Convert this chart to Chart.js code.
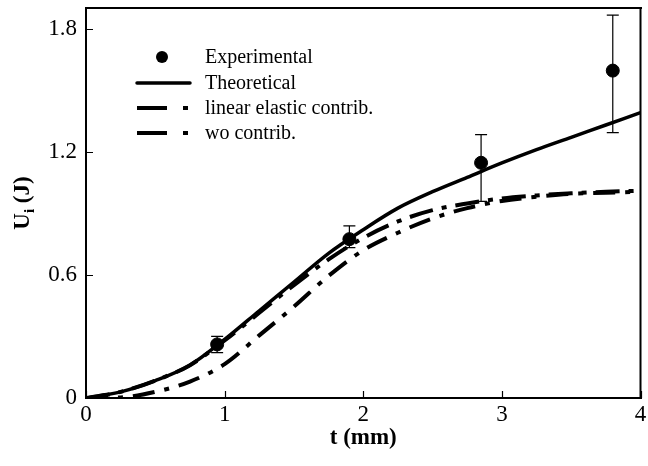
<!DOCTYPE html>
<html>
<head>
<meta charset="utf-8">
<script src="https://cdn.jsdelivr.net/npm/chart.js@4/dist/chart.umd.min.js"></script>
<style>
  html, body { margin: 0; padding: 0; background: #fff; overflow: hidden; }
  #wrap { width: 648px; height: 466px; }
</style>
</head>
<body>
<div id="wrap"><canvas id="c" width="648" height="466"></canvas></div>
<script>
// ---- data ----
const tGrid = [0, 0.25, 0.5, 0.75, 1.0, 1.25, 1.5, 1.75, 2.0, 2.25, 2.5, 2.75, 3.0, 3.25, 3.5, 3.75, 4.0];
const theoretical   = [0, 0.03, 0.085, 0.16, 0.285, 0.425, 0.565, 0.705, 0.82, 0.925, 1.005, 1.075, 1.145, 1.21, 1.27, 1.33, 1.39];
const linearElastic = [0, 0.03, 0.085, 0.16, 0.28, 0.415, 0.55, 0.675, 0.78, 0.86, 0.915, 0.948, 0.972, 0.987, 0.997, 1.005, 1.01];
const woContrib     = [0, 0.003, 0.03, 0.08, 0.165, 0.305, 0.445, 0.595, 0.72, 0.805, 0.875, 0.925, 0.96, 0.98, 0.995, 1.0, 1.005];

const expT    = [0.946, 1.90, 2.85, 3.80];
const expU    = [0.261, 0.774, 1.146, 1.595];
const expLow  = [0.221, 0.733, 0.958, 1.293];
const expHigh = [0.300, 0.839, 1.283, 1.865];

const xTicks = [0, 1, 2, 3, 4];
const yTicks = [0, 0.6, 1.2, 1.8];

const seriesNames = ['Experimental', 'Theoretical', 'linear elastic contrib.', 'wo contrib.'];

const SERIF = '"Liberation Serif", "Times New Roman", serif';
const pts = (xs, ys) => xs.map((x, i) => ({ x: x, y: ys[i] }));

// ---- plugin: frame, inward ticks, error bars, legend, axis titles ----
const decor = {
  id: 'decor',
  afterDatasetsDraw(chart) {
    const ctx = chart.ctx, a = chart.chartArea;
    const xs = chart.scales.x, ys = chart.scales.y;
    ctx.save();
    // error bars
    ctx.strokeStyle = '#000'; ctx.lineWidth = 1.2;
    expT.forEach((t, i) => {
      const px = xs.getPixelForValue(t);
      const y1 = ys.getPixelForValue(expLow[i]);
      const y2 = ys.getPixelForValue(expHigh[i]);
      ctx.beginPath();
      ctx.moveTo(px, y1); ctx.lineTo(px, y2);
      ctx.moveTo(px - 6, y1); ctx.lineTo(px + 6, y1);
      ctx.moveTo(px - 6, y2); ctx.lineTo(px + 6, y2);
      ctx.stroke();
    });
    // frame (filled strips)
    ctx.fillStyle = '#000';
    const L = Math.round(a.left), R = Math.round(a.right), T = Math.round(a.top), B = Math.round(a.bottom);
    ctx.fillRect(L - 1, T - 1, R - L + 2, 2);      // top
    ctx.fillRect(L - 1, B - 1, R - L + 2, 2);      // bottom
    ctx.fillRect(L - 1, T - 1, 2, B - T + 2);      // left
    ctx.fillRect(R - 1.5, T - 1, 2, B - T + 2);    // right
    // inward ticks
    ctx.strokeStyle = '#000';
    ctx.beginPath();
    xTicks.forEach(v => {
      const px = Math.round(xs.getPixelForValue(v)) + 0.5;
      ctx.moveTo(px, a.bottom); ctx.lineTo(px, a.bottom - 7);
    });
    yTicks.forEach(v => {
      const py = Math.round(ys.getPixelForValue(v)) + 0.5;
      ctx.moveTo(a.left, py); ctx.lineTo(a.left + 7, py);
    });
    ctx.lineWidth = 1.2;
    ctx.stroke();

    // legend
    const lx1 = a.left + 51, lx2 = a.left + 104, tx = a.left + 119;
    const rows = [a.top + 49, a.top + 75, a.top + 100, a.top + 125];
    ctx.font = '20px ' + SERIF;
    ctx.textBaseline = 'middle';
    ctx.textAlign = 'left';
    // experimental dot
    ctx.beginPath(); ctx.arc(a.left + 76, rows[0], 6, 0, Math.PI * 2); ctx.fill();
    // theoretical
    ctx.lineWidth = 3.5; ctx.lineCap = 'round';
    ctx.beginPath(); ctx.moveTo(lx1, rows[1]); ctx.lineTo(lx2, rows[1]); ctx.stroke();
    ctx.lineCap = 'butt'; ctx.lineWidth = 4;
    [2, 3].forEach(r => {
      ctx.beginPath();
      ctx.moveTo(lx1, rows[r]); ctx.lineTo(lx1 + 30, rows[r]);
      ctx.moveTo(lx1 + 46, rows[r]); ctx.lineTo(lx1 + 51, rows[r]);
      ctx.stroke();
    });
    seriesNames.forEach((n, i) => ctx.fillText(n, tx, rows[i] + 1));

    // axis titles
    ctx.font = 'bold 23px ' + SERIF;
    ctx.textAlign = 'center';
    ctx.textBaseline = 'alphabetic';
    ctx.fillText('t (mm)', (a.left + a.right) / 2, 444);
    // y title with subscript
    ctx.translate(29, (a.top + a.bottom) / 2);
    ctx.rotate(-Math.PI / 2);
    const wU = ctx.measureText('U').width;
    ctx.font = 'bold 15px ' + SERIF;
    const wI = ctx.measureText('i').width;
    ctx.font = 'bold 23px ' + SERIF;
    const wJ = ctx.measureText(' (J)').width;
    const total = wU + wI + wJ;
    let x0 = -total / 2;
    ctx.textAlign = 'left';
    ctx.fillText('U', x0, 0);
    ctx.font = 'bold 15px ' + SERIF;
    ctx.fillText('i', x0 + wU, 5);
    ctx.font = 'bold 23px ' + SERIF;
    ctx.fillText(' (J)', x0 + wU + wI, 0);
    ctx.restore();
  }
};

new Chart(document.getElementById('c'), {
  type: 'line',
  data: {
    datasets: [
      {
        label: seriesNames[0], data: pts(expT, expU), showLine: false,
        pointRadius: 6.5, pointBackgroundColor: '#000', pointBorderColor: '#000', order: 0
      },
      {
        label: seriesNames[1], data: pts(tGrid, theoretical), borderColor: '#000', borderWidth: 3.5,
        pointRadius: 0, cubicInterpolationMode: 'monotone', fill: false, order: 1
      },
      {
        label: seriesNames[2], data: pts(tGrid, linearElastic), borderColor: '#000', borderWidth: 4,
        borderDash: [24, 9, 5, 9], pointRadius: 0, cubicInterpolationMode: 'monotone', fill: false, order: 2
      },
      {
        label: seriesNames[3], data: pts(tGrid, woContrib), borderColor: '#000', borderWidth: 4,
        borderDash: [22, 10, 5, 10], pointRadius: 0, cubicInterpolationMode: 'monotone', fill: false, order: 3
      }
    ]
  },
  options: {
    responsive: false,
    animation: false,
    devicePixelRatio: 1,
    layout: { padding: { top: 8, right: 7, left: 0, bottom: 0 } },
    plugins: { legend: { display: false }, tooltip: { enabled: false } },
    scales: {
      x: {
        type: 'linear', min: 0, max: 4,
        afterBuildTicks: s => { s.ticks = xTicks.map(v => ({ value: v })); },
        afterFit: s => { s.height = 68; s.paddingLeft = 0; s.paddingRight = 0; },
        grid: { display: false, drawTicks: false },
        border: { display: false },
        ticks: { color: '#000', font: { family: SERIF, size: 23 }, padding: 3, maxRotation: 0,
                 callback: v => String(v) }
      },
      y: {
        type: 'linear', min: 0, max: 1.9,
        afterBuildTicks: s => { s.ticks = yTicks.map(v => ({ value: v })); },
        afterFit: s => { s.width = 86; s.paddingTop = 0; s.paddingBottom = 0; },
        grid: { display: false, drawTicks: false },
        border: { display: false },
        ticks: { color: '#000', font: { family: SERIF, size: 23 }, padding: 9,
                 callback: v => (v === 0 ? '0' : v.toFixed(1)) }
      }
    }
  },
  plugins: [decor]
});
</script>
</body>
</html>
